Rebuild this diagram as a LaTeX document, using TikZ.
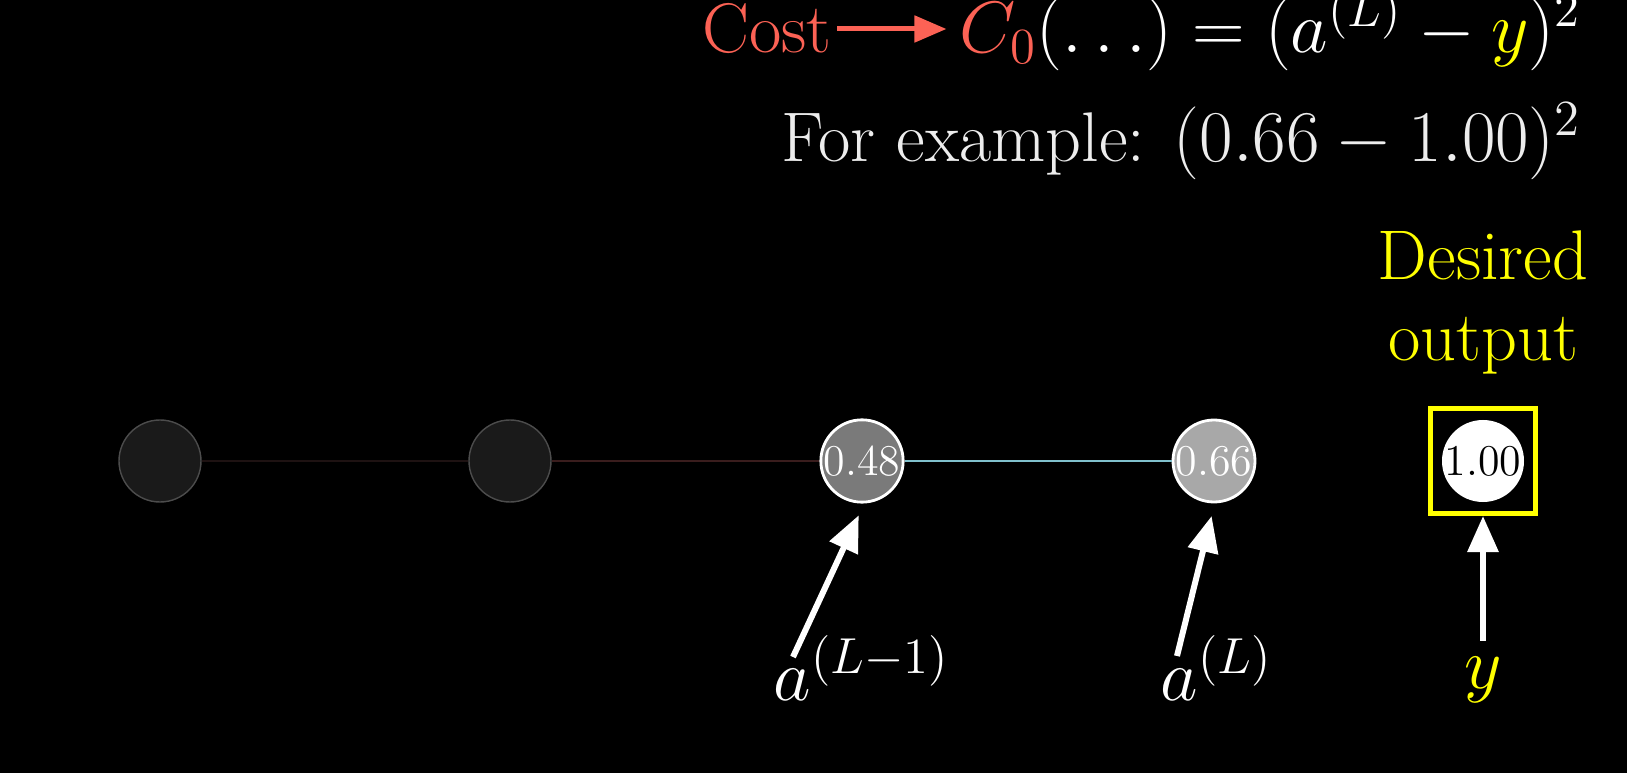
\documentclass[tikz,border=0pt]{standalone}
\usepackage{amsmath}
\usepackage{tikz}
\usetikzlibrary{arrows.meta,positioning,calc}
\usepackage{xcolor}

\definecolor{costred}{HTML}{FC6255}
\definecolor{wantyellow}{HTML}{FFFF00}
\definecolor{wblue}{HTML}{80C0CC}
\definecolor{wdark}{HTML}{3A1D1D}
\definecolor{wfaint}{HTML}{1E1212}
\definecolor{offfill}{HTML}{1A1A1A}

\begin{document}
\begin{tikzpicture}[
    big/.style={font=\fontsize{20}{23}\selectfont, inner sep=0pt},
    neuron/.style={circle, minimum size=0.82cm, inner sep=0pt, font=\fontsize{12.5}{13}\selectfont},
    offneuron/.style={neuron, fill=offfill, draw=white!30!black, line width=0.4pt},
    onneuron/.style={neuron, draw=white, line width=0.8pt, text=white},
    pointer/.style={-{Triangle[length=0.36cm,width=0.3cm]}, white, line width=0.06cm}
]
                    \fill[black] (0,0) rectangle (16.27,7.73);
                    \useasboundingbox (0,0) rectangle (16.27,7.73);

                    \node[offneuron] (n1) at (1.60,3.12) {};
                    \node[offneuron] (n2) at (5.10,3.12) {};
                    \node[onneuron, fill=white!48!black] (n3) at (8.62,3.12) {0.48};
                    \node[onneuron, fill=white!66!black] (n4) at (12.14,3.12) {0.66};
                    \node[neuron, fill=white, text=black] (target) at (14.83,3.12) {1.00};
                    \node[draw=wantyellow, line width=0.05cm, minimum size=1.05cm] (box) at (target) {};

                    \draw[wfaint, line width=0.5pt] (n1) -- (n2);
                    \draw[wdark, line width=0.8pt] (n2) -- (n3);
                    \draw[wblue, line width=0.8pt] (n3) -- (n4);

                    \node[big, text=white, anchor=base east] (cfun) at (15.82,7.20) {${\color{costred}C_0}(\ldots) = (a^{(L)} - {\color{wantyellow}y})^2$};
                    \node[big, text=costred, base left=1.26cm of cfun] (cost) {Cost};
                    \draw[costred, line width=0.05cm, -{Triangle[length=0.32cm,width=0.26cm]}, shorten <=0.05cm, shorten >=0.12cm] (cost.east) -- (cost.east -| cfun.west);
                    \node[big, text=white!93!black, anchor=base east] (example) at (15.82,6.11) {For example: $(0.66 - 1.00)^2$};

                    \node[big, text=wantyellow, align=center, anchor=base] (desired) at (14.83,4.13) {Desired\\output};

                    \node[big, text=white, anchor=base west] (alm) at (7.73,0.73) {$a^{(L-1)}$};
                    \node[big, text=white, anchor=base west] (al) at (11.60,0.73) {$a^{(L)}$};
                    \node[big, text=wantyellow, anchor=base] (ylab) at (14.83,0.85) {$y$};

                    \coordinate (alm tail) at (7.93,1.16);
                    \coordinate (al tail) at (11.77,1.17);
                    \draw[pointer, shorten >=0.13cm] (alm tail) -- (n3.-87);
                    \draw[pointer, shorten >=0.13cm] (al tail) -- (n4.-89);
                    \draw[pointer, shorten <=0.15cm] (ylab.north) -- (box.south);
                \end{tikzpicture}
\end{document}
